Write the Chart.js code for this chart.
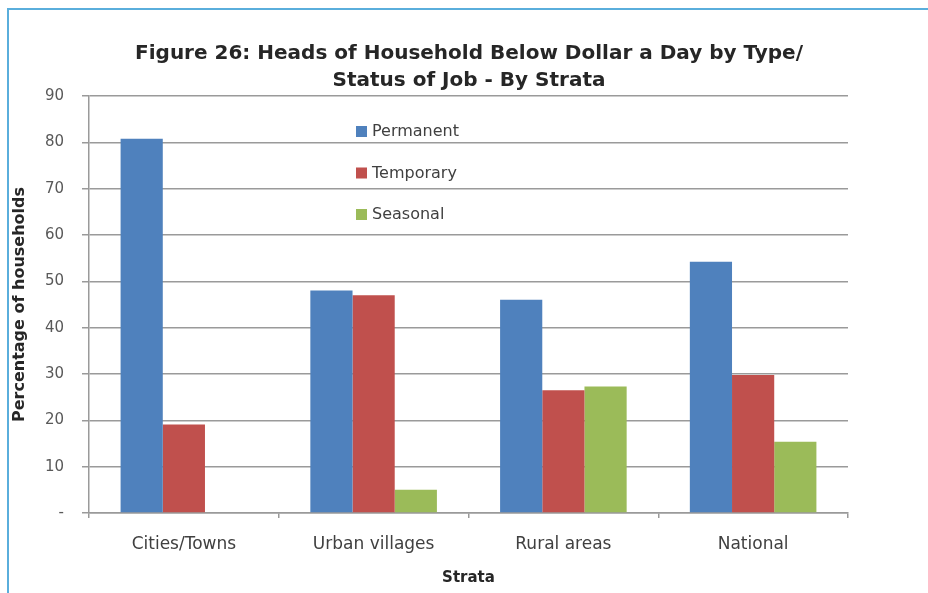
<!DOCTYPE html>
<html>
<head>
<meta charset="utf-8">
<title>Heads of Household Below Dollar a Day by Type/Status of Job</title>
<script src="https://cdn.jsdelivr.net/npm/chart.js@4.4.1/dist/chart.umd.min.js"></script>
<style>
    html, body { margin: 0; padding: 0; background: #ffffff; }
    #wrap { position: relative; width: 928px; height: 593px; }
    #frame {
        position: absolute; left: 7px; top: 8px; right: 0; bottom: 0;
        border-top: 2px solid #5aaedc; border-left: 2px solid #5aaedc;
        pointer-events: none;
    }
</style>
</head>
<body>
<div id="wrap">
    <canvas id="strata-chart" width="928" height="593"></canvas>
    <div id="frame"></div>
</div>
<script>
// Data
const strata = ['Cities/Towns', 'Urban villages', 'Rural areas', 'National'];
const permanent = [80.8, 48.0, 46.0, 54.2];
const temporary = [19.1, 47.0, 26.5, 29.8];
const seasonal = [0, 5.0, 27.3, 15.4];
const yTicks = [0, 10, 20, 30, 40, 50, 60, 70, 80, 90];

const GRID = '#9a9a9a';
const TEXT = '#404040';
const FONT = "'DejaVu Sans', sans-serif";

// Legend drawn inside the plot area, stacked vertically
const insideLegend = {
    id: 'insideLegend',
    afterDatasetsDraw(chart, args, opts) {
        const { ctx, chartArea } = chart;
        ctx.save();
        ctx.font = `16px ${FONT}`;
        ctx.textBaseline = 'middle';
        chart.data.datasets.forEach((ds, i) => {
            const x = chartArea.left + opts.offsetX;
            const y = chartArea.top + opts.offsetY + i * opts.rowGap;
            ctx.fillStyle = ds.backgroundColor;
            ctx.fillRect(x, y - 5, 11, 11);
            ctx.fillStyle = TEXT;
            ctx.fillText(ds.label, x + 16, y + 1);
        });
        ctx.restore();
    }
};

const ctx = document.getElementById('strata-chart');
new Chart(ctx, {
    type: 'bar',
    data: {
        labels: strata,
        datasets: [
            { label: 'Permanent', data: permanent, backgroundColor: '#4f81bd' },
            { label: 'Temporary', data: temporary, backgroundColor: '#c0504d' },
            { label: 'Seasonal', data: seasonal, backgroundColor: '#9bbb59' }
        ]
    },
    options: {
        responsive: false,
        animation: false,
        layout: { padding: { top: 28, left: 10, right: 0, bottom: 0 } },
        datasets: {
            bar: { categoryPercentage: 0.667, barPercentage: 1.0 }
        },
        scales: {
            y: {
                min: 0,
                max: 90,
                afterBuildTicks: (scale) => {
                    scale.ticks = yTicks.map(v => ({ value: v }));
                },
                afterFit: (scale) => { scale.width = 79; },
                ticks: {
                    color: '#595959',
                    font: { family: FONT, size: 15 },
                    padding: 18,
                    callback: (v) => v === 0 ? '-' : v
                },
                grid: { color: GRID, lineWidth: 1.5, tickLength: 7 },
                border: { color: GRID, width: 1.5 },
                title: {
                    display: true,
                    text: 'Percentage of households',
                    color: '#262626',
                    font: { family: FONT, size: 16, weight: 'bold' },
                    padding: { top: 0, bottom: 0 }
                }
            },
            // empty right-hand axis, only keeps the plot clear of the right margin
            yRight: {
                position: 'right',
                display: true,
                afterFit: (scale) => { scale.width = 80; },
                ticks: { display: false },
                grid: { drawOnChartArea: false, drawTicks: false },
                border: { display: false }
            },
            x: {
                afterFit: (scale) => { scale.height = 80; },
                ticks: {
                    color: TEXT,
                    font: { family: FONT, size: 17 },
                    padding: 16
                },
                grid: { drawOnChartArea: false, color: GRID, lineWidth: 1.5, tickLength: 5 },
                border: { color: GRID, width: 1.5 },
                title: {
                    display: true,
                    text: 'Strata',
                    color: '#262626',
                    font: { family: FONT, size: 15, weight: 'bold' },
                    padding: { top: 10, bottom: 6 }
                }
            }
        },
        plugins: {
            legend: { display: false },
            tooltip: { enabled: false },
            title: {
                display: true,
                text: ['Figure 26: Heads of Household Below Dollar a Day by Type/', 'Status of Job - By Strata'],
                color: '#262626',
                font: { family: FONT, size: 20, weight: 'bold', lineHeight: 1.35 },
                padding: { top: 12, bottom: 2 }
            },
            insideLegend: { offsetX: 267, offsetY: 35, rowGap: 41.5 }
        }
    },
    plugins: [insideLegend]
});
</script>
</body>
</html>
